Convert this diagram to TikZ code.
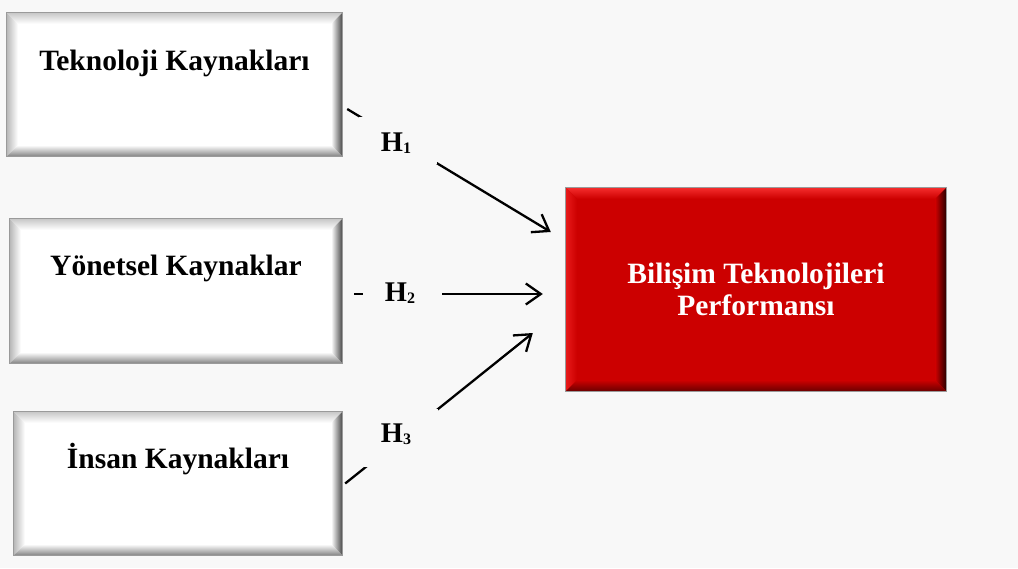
\documentclass[tikz,border=0pt]{standalone}
\usepackage{fontspec}
\setmainfont{Liberation Serif}
\usetikzlibrary{arrows.meta}

\definecolor{bg}{HTML}{F8F8F8}
\definecolor{face}{HTML}{CC0000}
\definecolor{rimline}{HTML}{9A9A9A}
% white box bevel colours
\definecolor{wtop}{HTML}{C8C8C8}
\definecolor{wleft}{HTML}{B8B8B8}
\definecolor{wright}{HTML}{4A4A4A}
\definecolor{wbot}{HTML}{858585}
% red box bevel colours
\definecolor{rtop}{HTML}{F42C2C}
\definecolor{rleft}{HTML}{E81A1A}
\definecolor{rright}{HTML}{2A0000}
\definecolor{rbot}{HTML}{6A0000}

\newcommand\rimw{11pt}
% bevelled rim round a node: #1 node, #2 face, #3 top, #4 left, #5 right, #6 bottom
\newcommand\bevelrim[6]{%
  \shade[top color=#3, bottom color=#2]
    (#1.north west) -- (#1.north east) -- ([shift={(-\rimw,-\rimw)}]#1.north east)
    -- ([shift={(\rimw,-\rimw)}]#1.north west) -- cycle;
  \shade[left color=#4, right color=#2]
    (#1.north west) -- ([shift={(\rimw,-\rimw)}]#1.north west)
    -- ([shift={(\rimw,\rimw)}]#1.south west) -- (#1.south west) -- cycle;
  \shade[left color=#2, right color=#5]
    (#1.north east) -- (#1.south east) -- ([shift={(-\rimw,\rimw)}]#1.south east)
    -- ([shift={(-\rimw,-\rimw)}]#1.north east) -- cycle;
  \shade[top color=#2, bottom color=#6]
    (#1.south west) -- (#1.south east) -- ([shift={(-\rimw,\rimw)}]#1.south east)
    -- ([shift={(\rimw,\rimw)}]#1.south west) -- cycle;
  \draw[rimline, line width=0.8pt] (#1.north west) rectangle (#1.south east);
}
\newcommand\hsub[1]{\raisebox{-2pt}{\fontsize{16}{16}\selectfont #1}}

\begin{document}
\begin{tikzpicture}[x=1pt, y=-1pt,
  wbox/.style={rectangle, fill=white, inner sep=0pt,
    font=\fontsize{29.5}{34}\selectfont\bfseries, text height=20pt},
  rbox/.style={rectangle, fill=face, inner sep=0pt, text=white, align=center,
    font=\fontsize{29.5}{31.5}\selectfont\bfseries},
  conn/.style={line width=2.3pt, -{Straight Barb[length=15pt,width=21pt]}},
  hyp/.style={fill=bg, inner sep=0pt, minimum height=47pt,
    font=\fontsize{28.5}{30}\selectfont\bfseries}
]
\fill[bg] (0,0) rectangle (1018,568);
\useasboundingbox (0,0) rectangle (1018,568);

% resource boxes
\node[wbox, minimum width=335pt, minimum height=143pt, text depth=48pt]
  (tk) at (174.5,84.5) {Teknoloji Kaynakları};
\node[wbox, minimum width=332pt, minimum height=144pt, text depth=52pt]
  (yk) at (176,291) {Yönetsel Kaynaklar};
\node[wbox, minimum width=328pt, minimum height=143pt, text depth=51pt]
  (ik) at (178,483.5) {İnsan Kaynakları};
% outcome box
\node[rbox, minimum width=380pt, minimum height=203pt]
  (bp) at (756,289.5) {Bilişim Teknolojileri\\Performansı};

\bevelrim{tk}{white}{wtop}{wleft}{wright}{wbot}
\bevelrim{yk}{white}{wtop}{wleft}{wright}{wbot}
\bevelrim{ik}{white}{wtop}{wleft}{wright}{wbot}
\bevelrim{bp}{face}{rtop}{rleft}{rright}{rbot}

% connector ends
\coordinate (s1) at ([shift={(5pt,-24.5pt)}]tk.east);
\coordinate (s2) at ([shift={(12pt,-3pt)}]yk.east);
\coordinate (s3) at ([shift={(3pt,0pt)}]ik.east);
\coordinate (e1) at ([shift={(-15pt,57.5pt)}]bp.west);
\coordinate (e2) at ([shift={(-23pt,-4.5pt)}]bp.west);
\coordinate (e3) at ([shift={(-33pt,-43.5pt)}]bp.west);

\draw[conn] (s1) -- (e1);
\draw[conn] (s2) -- (e2);
\draw[conn] (s3) -- (e3);

% hypothesis labels, laid over the connectors
\node[hyp, minimum width=78pt, text height=24pt, text depth=2pt]
  (h1) at (398,140.5) {H\hsub{1}\hspace*{4pt}};
\node[hyp, minimum width=79pt, text height=19pt, text depth=5pt]
  (h2) at (402.5,294) {H\hsub{2}\hspace*{5pt}};
\node[hyp, minimum width=74pt, minimum height=58pt, text height=19pt, text depth=10pt]
  (h3) at (401,438) {H\hsub{3}\hspace*{10pt}};
\end{tikzpicture}
\end{document}
